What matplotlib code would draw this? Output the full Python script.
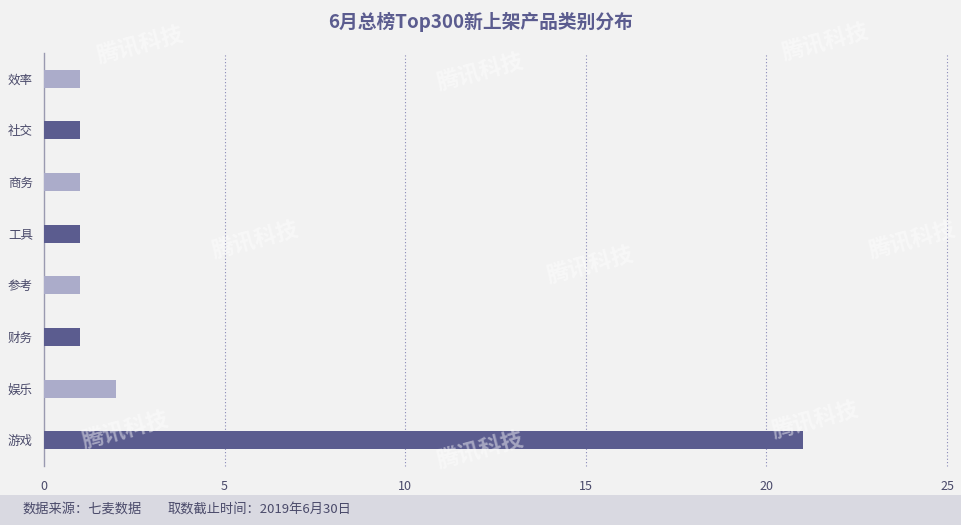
import matplotlib
matplotlib.use("Agg")
import matplotlib.pyplot as plt
from matplotlib.patches import Rectangle

plt.rcParams['font.family'] = ['Noto Sans CJK SC', 'DejaVu Sans']

categories = ["效率", "社交", "商务", "工具", "参考", "财务", "娱乐", "游戏"]
values = [1, 1, 1, 1, 1, 1, 2, 21]
xticks = [0, 5, 10, 15, 20, 25]
title = "6月总榜Top300新上架产品类别分布"
footer1 = "数据来源：七麦数据"
footer2 = "取数截止时间：2019年6月30日"

dark = "#5b5c8f"
light = "#abacca"
bg = "#f2f2f2"

fig = plt.figure(figsize=(9.62, 5.25), dpi=100, facecolor=bg)
ax = fig.add_axes([44/962, (525-466)/525, (947-44)/962, (466-53)/525])
ax.set_facecolor(bg)

colors = [light if i % 2 == 0 else dark for i in range(len(categories))]
ypos = list(range(len(categories)))
ax.barh(ypos, values, height=0.35, color=colors, zorder=3)
ax.set_ylim(len(categories) - 0.5, -0.5)
ax.set_xlim(0, 25)
ax.set_yticks(ypos)
ax.set_yticklabels(categories, fontsize=9, color="#4a4a6a")
ax.set_xticks(xticks)
ax.set_xticklabels([str(t) for t in xticks], fontsize=9, color="#4a4a6a")
ax.tick_params(axis='both', length=0)
ax.tick_params(axis='x', pad=10)
ax.tick_params(axis='y', pad=8)
for s in ['top', 'right', 'bottom']:
    ax.spines[s].set_visible(False)
ax.spines['left'].set_color("#9a9ab0")
ax.spines['left'].set_linewidth(1)
for t in xticks[1:]:
    ax.axvline(t, color="#8a8ab8", linestyle=(0, (1, 2)), linewidth=0.8, zorder=1, clip_on=False)

fig.text(0.5, 1 - 22/525, title, ha='center', va='center', fontsize=13.5,
         fontweight='bold', color="#5b5c8f")

fig.patches.append(Rectangle((0, 0), 1, 30/525, transform=fig.transFigure,
                             facecolor="#d9d9e1", edgecolor='none', zorder=0))
fig.text(22/962, 1 - 509/525, footer1, ha='left', va='center', fontsize=9.5, color="#4a4a6a")
fig.text(168/962, 1 - 509/525, footer2, ha='left', va='center', fontsize=9.5, color="#4a4a6a")

wm = [(140, 45), (480, 72), (825, 42), (255, 240), (590, 265), (912, 240), (125, 430), (480, 450), (815, 420)]
for (x, y) in wm:
    fig.text(x/962, 1 - y/525, "腾讯科技", ha='center', va='center', fontsize=16,
             fontweight='bold', color="white", alpha=0.45, rotation=15, zorder=10)

fig.savefig("out.png", dpi=100, facecolor=bg)
